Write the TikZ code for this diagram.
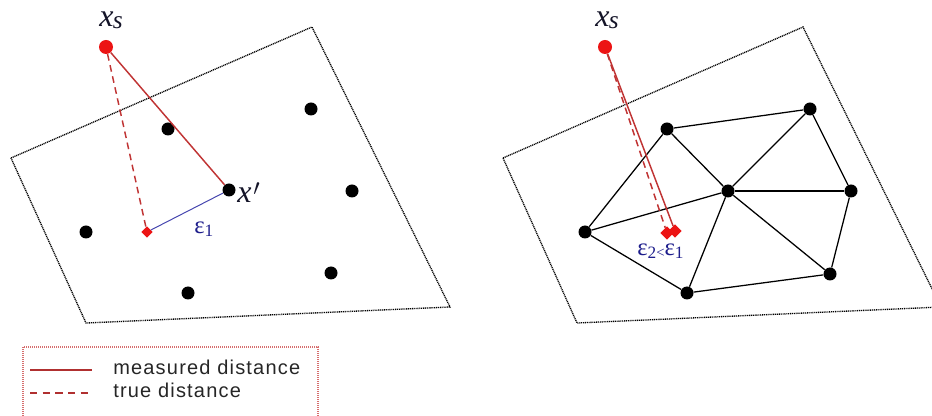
\documentclass[tikz,border=0pt]{standalone}
\usepackage{fontspec}
\setmainfont{Liberation Serif}
\newfontfamily\legendfont[LetterSpace=6]{Liberation Sans}
\newfontfamily\labelfont{Liberation Serif}
\usetikzlibrary{shapes.geometric}
\definecolor{ptred}{RGB}{236,20,20}
\definecolor{linered}{RGB}{192,52,52}
\definecolor{legred}{RGB}{176,48,48}
\definecolor{boxred}{RGB}{214,110,110}
\definecolor{navy}{RGB}{30,30,140}
\definecolor{epsline}{RGB}{70,70,175}
\definecolor{labelink}{RGB}{20,20,40}
\begin{document}
\begin{tikzpicture}[x=0.75pt,y=-0.75pt,
  frame/.style={draw=black,line width=1pt,dash pattern=on 0.8pt off 0.6pt},
  legendbox/.style={draw=boxred,line width=0.8pt,dash pattern=on 0.75pt off 0.75pt},
  dot/.style={circle,fill=black,inner sep=0pt,minimum size=9.75pt},
  srcdot/.style={circle,fill=ptred,inner sep=0pt,minimum size=10.5pt},
  rmark/.style={diamond,fill=ptred,inner sep=0pt,minimum size=8.5pt},
  rmarkb/.style={diamond,fill=ptred,inner sep=0pt,minimum size=10pt},
  meas/.style={draw=linered,line width=1.1pt},
  truedist/.style={draw=linered,line width=1.1pt,dash pattern=on 5pt off 3.5pt},
  epsl/.style={draw=epsline,line width=0.75pt},
  edge/.style={draw=black,line width=0.95pt},
  lbl/.style={inner sep=0pt,text=labelink},
  legtext/.style={anchor=base west,inner sep=0pt,font=\legendfont\fontsize{15}{15}\selectfont,text=black!85}
]
\useasboundingbox (0,0) rectangle (932,416);
\clip (0,0) rectangle (932,416);

% planes
\draw[frame] (11,158) -- (312,27) -- (450,307) -- (86,323) -- cycle;
\draw[frame] (503,158) -- (803,27) -- (941,307) -- (577,323) -- cycle;

% ---------- left panel ----------
\node[srcdot] (xsL) at (106,47) {};
\node[dot] (L1) at (168,129) {};
\node[dot] (L2) at (311,109) {};
\node[dot] (xp) at (229,190) {};
\node[dot] (L3) at (352,191) {};
\node[dot] (L4) at (86,232) {};
\node[dot] (L5) at (331,273) {};
\node[dot] (L6) at (188,293) {};
\node[rmark] (dmL) at (147,232) {};

\draw[meas] (xsL) -- (xp);
\draw[truedist] (xsL) -- (dmL);
\draw[epsl] (dmL) -- (xp);

\node[lbl,anchor=base] (lblxsL) at (111,27)
  {\labelfont\fontsize{24}{24}\selectfont\itshape x\kern-0.5pt\raisebox{-1.5pt}{\fontsize{19}{19}\selectfont s}};
\node[lbl,anchor=base west] (lblxp) at (237,203)
  {\labelfont\fontsize{24}{24}\selectfont\itshape x\kern1.5pt\raisebox{5.5pt}{\fontsize{16}{16}\selectfont\upshape$\prime$}};
\node[lbl,anchor=base west,text=navy] (lble1) at (194,234)
  {\labelfont\fontsize{18.5}{18}\selectfont ε\raisebox{-2pt}{\fontsize{13}{13}\selectfont 1}};

% ---------- right panel ----------
\node[srcdot] (xsR) at (605,47) {};
\node[dot] (R1) at (667,129) {};
\node[dot] (R2) at (810,109) {};
\node[dot] (C) at (728,191) {};
\node[dot] (R3) at (851,191) {};
\node[dot] (R4) at (585,232) {};
\node[dot] (R5) at (830,274) {};
\node[dot] (R6) at (687,293) {};
\node[rmarkb] (dmR1) at (667,233) {};
\node[rmarkb] (dmR2) at (675,231) {};

\draw[edge] (R1) -- (R2);
\draw[edge] (R1) -- (C);
\draw[edge] (R1) -- (R4);
\draw[edge] (R2) -- (C);
\draw[edge] (R2) -- (R3);
\draw[edge] (C) -- (R3);
\draw[edge] (C) -- (R4);
\draw[edge] (C) -- (R6);
\draw[edge] (C) -- (R5);
\draw[edge] (R4) -- (R6);
\draw[edge] (R6) -- (R5);
\draw[edge] (R5) -- (R3);

\draw[meas] (xsR) -- (dmR2);
\draw[truedist] (xsR) -- (dmR1);

\node[lbl,anchor=base] (lblxsR) at (607,27)
  {\labelfont\fontsize{24}{24}\selectfont\itshape x\kern-0.5pt\raisebox{-1.5pt}{\fontsize{19}{19}\selectfont s}};
\node[lbl,anchor=base west,text=navy] (lble2) at (637,256)
  {\labelfont\fontsize{18.5}{18}\selectfont ε\raisebox{-2pt}{\fontsize{13}{13}\selectfont 2}\raisebox{-1pt}{\fontsize{11}{11}\selectfont <}ε\raisebox{-2pt}{\fontsize{13}{13}\selectfont 1}};

% ---------- legend ----------
\draw[legendbox] (23,347) rectangle (318,422);
\coordinate (ms) at (30,370);
\coordinate (me) at (92,370);
\coordinate (ts) at (30,393);
\coordinate (te) at (92,393);
\draw[draw=legred,line width=1.5pt] (ms) -- (me);
\draw[draw=legred,line width=1.5pt,dash pattern=on 5.5pt off 4pt] (ts) -- (te);
\node[legtext] (lm) at (113,375) {measured distance};
\node[legtext] (lt) at (113,398) {true distance};
\end{tikzpicture}
\end{document}
